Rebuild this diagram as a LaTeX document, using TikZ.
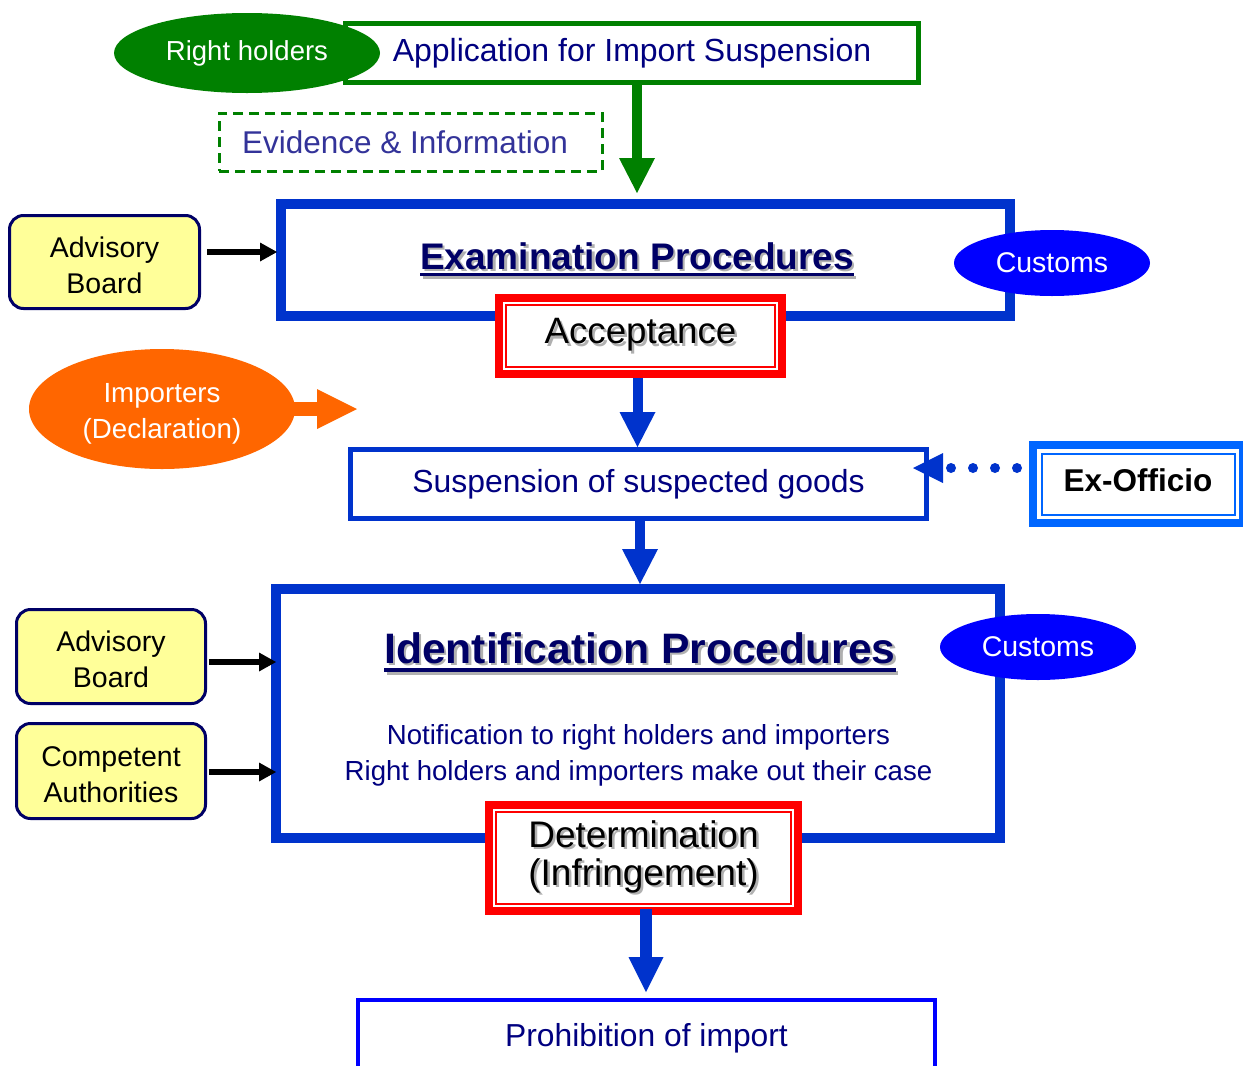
\documentclass[tikz,border=0pt]{standalone}
\usepackage{fontspec}
\setmainfont{Liberation Sans}
\usetikzlibrary{shapes.geometric,arrows.meta,calc}
\definecolor{grn}{HTML}{008000}
\definecolor{bbox}{HTML}{0033CC}
\definecolor{pureblue}{HTML}{0000FF}
\definecolor{navy}{HTML}{000080}
\definecolor{tnavy}{HTML}{000066}
\definecolor{evidc}{HTML}{333399}
\definecolor{org}{HTML}{FF6600}
\definecolor{yel}{HTML}{FFFF99}
\definecolor{exblue}{HTML}{0066FF}
\definecolor{shgray}{HTML}{B0B0B0}
\newcommand\myul[3]{\vtop{\hbox{#3}\kern#1\hrule height #2}}
\newcommand\shad[1]{\leavevmode\rlap{\kern2.5pt\raisebox{-2.5pt}{\color{shgray}#1}}#1}
\newcommand\strutto[1]{\rule{0pt}{#1}}
\begin{document}
\begin{tikzpicture}[x=1pt,y=-1pt,
  frame/.style={draw=#1, fill=white, inner sep=0pt},
  bigbox/.style={frame=bbox, line width=10pt},
  redbox/.style={frame=red, line width=8pt, align=center},
  yelbox/.style={draw=tnavy, line width=3pt, fill=yel, rounded corners=14pt, align=center,
    inner sep=0pt, font=\fontsize{28.5}{36}\selectfont},
  oval/.style={ellipse, inner sep=0pt, text=white},
  blockarrow/.style={line width=10pt, -{Triangle[width=36pt,length=35pt,line width=0pt]}},
  blackarrow/.style={line width=6pt, -{Triangle[width=19pt,length=17pt,line width=0pt]}},
  innerline/.style={draw=#1, line width=2pt}
]
\useasboundingbox (0,0) rectangle (1243,1066);
\clip (0,0) rectangle (1243,1066);

% --- top: application
\node[frame=grn, line width=5pt, minimum width=573pt, minimum height=59pt, text=navy,
  font=\fontsize{32}{36}\selectfont] (app) at (632,53) {Application for Import Suspension};
\node[oval, fill=grn, minimum width=266pt, minimum height=80pt,
  font=\fontsize{27.5}{30}\selectfont] (rh) at (247,53) {Right holders};
\node[draw=grn, dash pattern=on 10pt off 6pt, line width=3pt, minimum width=383pt,
  minimum height=58pt, inner sep=0pt, text=evidc, font=\fontsize{31.5}{36}\selectfont]
  (evid) at (410.5,142) {Evidence \& Information\hspace*{11pt}};

% --- examination
\node[bigbox, minimum width=729pt, minimum height=112pt] (exam) at (645.5,260) {};
\node[anchor=base, inner sep=0pt, text=tnavy, font=\bfseries\fontsize{37}{40}\selectfont]
  (examt) at (637,269) {\shad{\myul{4pt}{3pt}{Examination Procedures}}};
\draw[grn, blockarrow] ($(app.south)+(5,0)$) -- ($(app.south |- exam.north)+(5,-6)$);
\node[oval, fill=pureblue, minimum width=196pt, minimum height=66pt,
  font=\fontsize{28.5}{30}\selectfont] (cus1) at (1052,263) {Customs};

\node[redbox, minimum width=283pt, minimum height=76pt, font=\fontsize{36.7}{40}\selectfont]
  (acc) at (640.5,336) {\shad{Acceptance}};
\draw[innerline=red] ($(acc.north west)+(11,11)$) rectangle ($(acc.south east)+(-11,-11)$);

% --- importers
\node[oval, fill=org, minimum width=266pt, minimum height=120pt, align=center,
  font=\fontsize{27.7}{36}\selectfont] (imp) at (162,409) {\strutto{28pt}Importers\\(Declaration)};
\coordinate (impt) at (357,409);
\draw[org, line width=14pt, -{Triangle[width=40pt,length=40pt,line width=0pt]}]
  ($(imp.east)+(-4,0)$) -- (impt);

% --- suspension
\node[frame=bbox, line width=5pt, minimum width=576pt, minimum height=69pt, text=navy,
  font=\fontsize{31.9}{36}\selectfont] (susp) at (638.5,484) {Suspension of suspected goods};
\draw[bbox, blockarrow] ($(acc.south)+(-3,0)$) -- ($(acc.south |- susp.north)+(-3,0)$);

\node[frame=exblue, line width=8pt, minimum width=210pt, minimum height=78pt, text depth=7pt,
  font=\bfseries\fontsize{31.5}{34}\selectfont] (exof) at (1138,484) {Ex-Officio};
\draw[innerline=exblue] ($(exof.north west)+(12.5,12.5)$) rectangle ($(exof.south east)+(-12.5,-12.5)$);
\draw[bbox, line width=10pt, line cap=round, dash pattern=on 0pt off 22pt,
  -{Triangle[width=30pt,length=30pt,line width=0pt]}]
  ($(exof.west)+(-12,-16)$) -- ($(susp.east)+(-16,-16)$);

% --- identification
\node[bigbox, minimum width=724pt, minimum height=249pt] (idp) at (638,713.5) {};
\draw[bbox, blockarrow] ($(susp.south)+(1.5,0)$) -- ($(susp.south |- idp.north)+(1.5,0)$);
\node[anchor=base, inner sep=0pt, text=tnavy, font=\bfseries\fontsize{42.6}{46}\selectfont]
  (idpt) at (640,663) {\shad{\myul{5pt}{4pt}{Identification Procedures}}};
\node[anchor=base, inner sep=0pt, text=navy, font=\fontsize{27.6}{32}\selectfont]
  (not1) at (638.5,744) {Notification to right holders and importers};
\node[anchor=base, inner sep=0pt, text=navy, font=\fontsize{27.6}{32}\selectfont]
  (not2) at (638.5,780) {Right holders and importers make out their case};
\node[oval, fill=pureblue, minimum width=196pt, minimum height=66pt,
  font=\fontsize{28.5}{30}\selectfont] (cus2) at (1038,647) {Customs};

\node[redbox, minimum width=309pt, minimum height=106pt, font=\fontsize{37}{38}\selectfont]
  (det) at (643.5,858) {\shad{Determination}\\\shad{(Infringement)}};
\draw[innerline=red] ($(det.north west)+(11,11)$) rectangle ($(det.south east)+(-11,-11)$);

% --- prohibition
\node[frame=pureblue, line width=4pt, minimum width=577pt, minimum height=76pt, text=navy,
  font=\fontsize{31.8}{36}\selectfont] (proh) at (646.5,1038) {Prohibition of import};
\draw[bbox, line width=12pt, -{Triangle[width=35pt,length=35pt,line width=0pt]}]
  ($(det.south)+(2.5,-6)$) -- ($(det.south |- proh.north)+(2.5,-6)$);

% --- side boxes
\node[yelbox, minimum width=190pt, minimum height=93pt] (adv1) at (104.5,262) {\strutto{26.5pt}Advisory\\Board};
\draw[blackarrow] ($(adv1.east)+(6,-10)$) -- ($(adv1.east -| exam.west)+(1,-10)$);
\node[yelbox, minimum width=189pt, minimum height=94pt] (adv2) at (111,656.5) {\strutto{26.5pt}Advisory\\Board};
\draw[blackarrow] ($(adv2.east)+(2,5.5)$) -- ($(adv2.east -| idp.west)+(5,5.5)$);
\node[yelbox, minimum width=189pt, minimum height=95pt] (comp) at (111,771) {\strutto{26.5pt}Competent\\Authorities};
\draw[blackarrow] ($(comp.east)+(2,1)$) -- ($(comp.east -| idp.west)+(5,1)$);
\end{tikzpicture}
\end{document}
